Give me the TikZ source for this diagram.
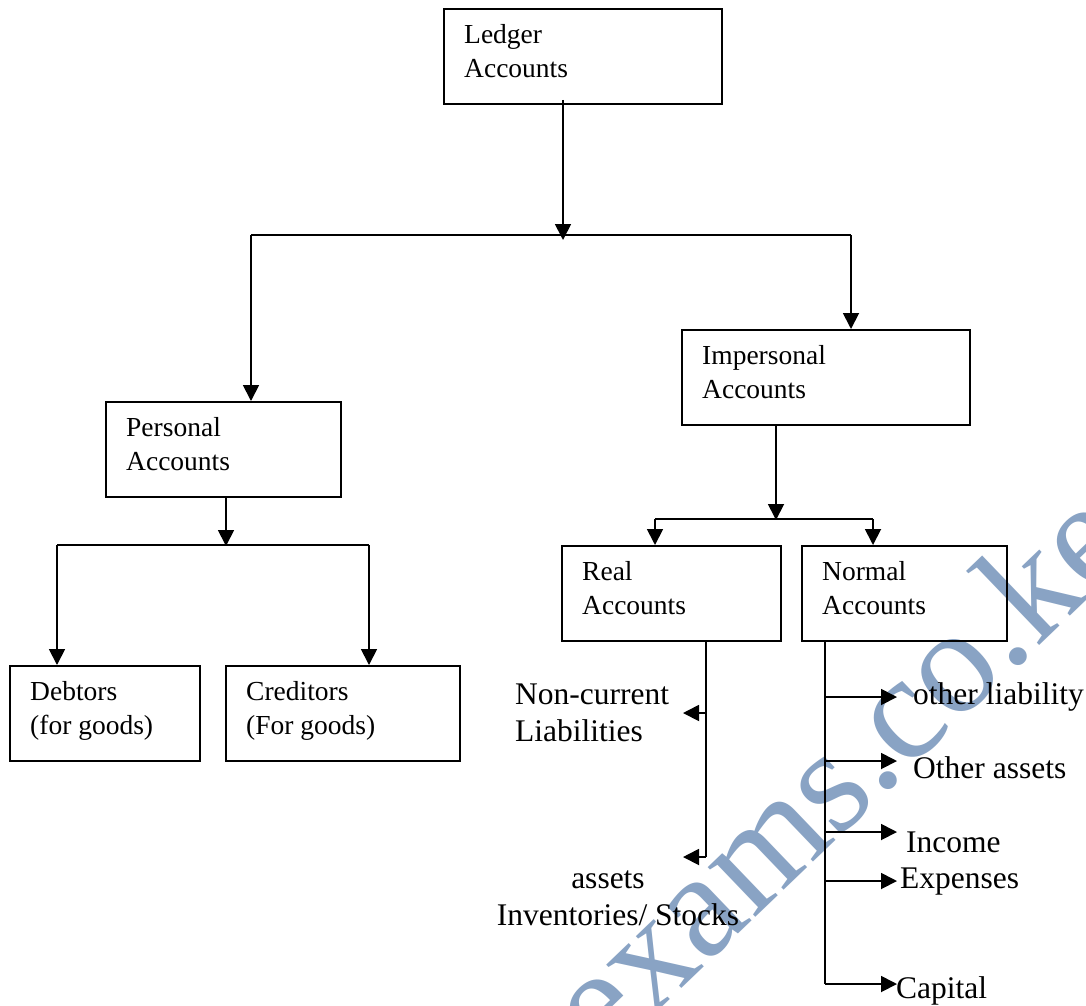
\documentclass[tikz,border=0pt]{standalone}
\usepackage{fontspec}
\setmainfont{Liberation Serif}
\usetikzlibrary{arrows.meta}
\definecolor{wm}{RGB}{137,163,196}
\begin{document}
\begin{tikzpicture}[x=1pt,y=-1pt,
  box/.style={draw, line width=1.8pt, anchor=north west, inner sep=0pt},
  boxtext/.style={anchor=north west, inner sep=0pt, align=left, font=\fontsize{27.5}{34.5}\selectfont},
  lbl/.style={anchor=base west, inner sep=0pt, align=left, font=\fontsize{31.5}{37}\selectfont},
  conn/.style={line width=1.8pt},
  arr/.style={conn, -{Triangle[length=16pt,width=16pt]}},
]
\path[use as bounding box, fill=white] (0,0) rectangle (1086,1005);

% watermark (behind everything)
\begin{scope}
\clip (0,0) rectangle (1086,1005);
\node[anchor=base west, rotate=43.8, text=wm, inner sep=0pt, font=\fontsize{150}{150}\selectfont] (wmark) at (603,1064) {exams.co.ke};
\end{scope}

% boxes
\node[box, minimum width=278pt, minimum height=95pt] (ledger) at (443,8) {};
\node[boxtext] (ledgerT) at ([xshift=21pt,yshift=-15pt]ledger.north west) {\rule{0pt}{20pt}Ledger\\Accounts};

\node[box, minimum width=235pt, minimum height=95pt] (personal) at (105,401) {};
\node[boxtext] (personalT) at ([xshift=21pt,yshift=-15pt]personal.north west) {\rule{0pt}{20pt}Personal\\Accounts};

\node[box, minimum width=288pt, minimum height=95pt] (impersonal) at (681,329) {};
\node[boxtext] (impersonalT) at ([xshift=21pt,yshift=-15pt]impersonal.north west) {\rule{0pt}{20pt}Impersonal\\Accounts};

\node[box, minimum width=219pt, minimum height=95pt] (real) at (561,545) {};
\node[boxtext] (realT) at ([xshift=21pt,yshift=-15pt]real.north west) {\rule{0pt}{20pt}Real\\Accounts};

\node[box, minimum width=205pt, minimum height=95pt] (normal) at (801,545) {};
\node[boxtext] (normalT) at ([xshift=21pt,yshift=-15pt]normal.north west) {\rule{0pt}{20pt}Normal\\Accounts};

\node[box, minimum width=190pt, minimum height=95pt] (debtors) at (9,665) {};
\node[boxtext] (debtorsT) at ([xshift=21pt,yshift=-15pt]debtors.north west) {\rule{0pt}{20pt}Debtors\\(for goods)};

\node[box, minimum width=234pt, minimum height=95pt] (creditors) at (225,665) {};
\node[boxtext] (creditorsT) at ([xshift=21pt,yshift=-15pt]creditors.north west) {\rule{0pt}{20pt}Creditors\\(For goods)};

% free labels
\node[lbl] (ncl) at (515,741) {Non-current\\Liabilities};
\node[lbl, anchor=base, align=center] (inv) at (618,925) {assets\hspace*{20pt}\\Inventories/ Stocks};
\node[lbl] (oliab) at (913,704) {other liability};
\node[lbl] (oassets) at (913,778) {Other assets};
\node[lbl] (income) at (906,852) {Income};
\node[lbl] (expenses) at (900,888) {Expenses};
\node[lbl] (capital) at (896,998) {Capital};

% level 1
\coordinate (j1) at (563,240);
\coordinate (hL) at (251,235);
\coordinate (hR) at (851,235);
\draw[arr] ([yshift=5pt]ledger.south -| j1) -- (j1);
\draw[conn] (hL) -- (hR);
\draw[arr] (hL) -- (hL |- personal.north);
\draw[arr] (hR) -- (hR |- impersonal.north);

% personal
\coordinate (j2) at (226,545);
\coordinate (pL) at (57,545);
\coordinate (pR) at (369,545);
\draw[arr] (personal.south -| j2) -- ([yshift=-1pt]j2);
\draw[conn] (pL) -- (pR);
\draw[arr] (pL) -- (pL |- debtors.north);
\draw[arr] (pR) -- (pR |- creditors.north);

% impersonal
\coordinate (j3) at (776,519);
\coordinate (iL) at (655,519);
\coordinate (iR) at (873,519);
\draw[arr] (impersonal.south -| j3) -- ([yshift=-1pt]j3);
\draw[conn] (iL) -- (iR);
\draw[arr] (iL) -- (iL |- real.north);
\draw[arr] (iR) -- (iR |- normal.north);

% real branches
\coordinate (r1) at (706,713);
\coordinate (r2) at (706,857);
\draw[conn] (real.south -| r1) -- (r2);
\draw[arr] (r1) -- (683,713);
\draw[arr] (r2) -- (683,857);

% normal branches
\coordinate (n0) at (825,697);
\coordinate (n1) at (825,761);
\coordinate (n2) at (825,832);
\coordinate (n3) at (825,881);
\coordinate (n4) at (825,984);
\draw[conn] (normal.south -| n4) -- (n4);
\draw[arr] (n0) -- (897,697);
\draw[arr] (n1) -- (897,761);
\draw[arr] (n2) -- (897,832);
\draw[arr] (n3) -- (897,881);
\draw[arr] (n4) -- (897,984);
\end{tikzpicture}
\end{document}
